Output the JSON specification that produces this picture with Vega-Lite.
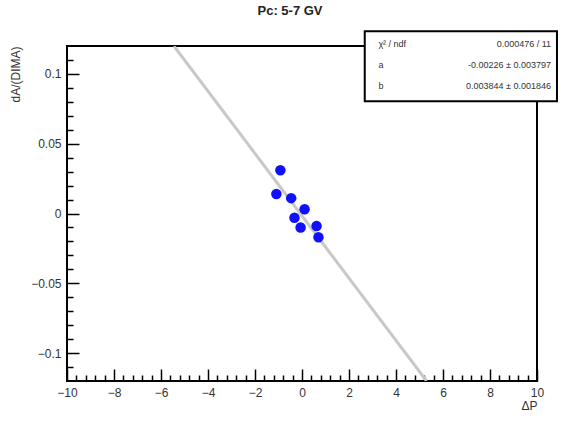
{
  "$schema": "https://vega.github.io/schema/vega-lite/v6.json",
  "autosize": "none",
  "width": 470,
  "height": 335,
  "padding": {"left": 67, "top": 46, "right": 34, "bottom": 41},
  "background": "white",
  "config": {
    "font": "Liberation Sans",
    "view": {"stroke": "black", "strokeWidth": 2}
  },
  "title": {
    "text": "Pc: 5-7 GV",
    "font": "Liberation Sans",
    "fontSize": 13,
    "fontWeight": "bold",
    "color": "#222",
    "anchor": "middle",
    "offset": 12,
    "dx": -12
  },
  "datasets": {
    "points": [
      {"dP": -0.92, "val": 0.031},
      {"dP": -1.09, "val": 0.014},
      {"dP": -0.46, "val": 0.011},
      {"dP": 0.11, "val": 0.003},
      {"dP": -0.32, "val": -0.003},
      {"dP": -0.06, "val": -0.010},
      {"dP": 0.62, "val": -0.009},
      {"dP": 0.70, "val": -0.017}
    ],
    "fit": [
      {"dP": -5.45, "val": 0.12},
      {"dP": 5.3, "val": -0.12}
    ],
    "box": [
      {"x1": 2.67, "x2": 10.85, "y1": 0.1305, "y2": 0.0805}
    ],
    "stats": [
      {"name": "χ² / ndf", "value": "0.000476 / 11", "row": 0.1215, "lx": 3.25, "rx": 10.6},
      {"name": "a", "value": "-0.00226 ± 0.003797", "row": 0.1065, "lx": 3.25, "rx": 10.6},
      {"name": "b", "value": "0.003844 ± 0.001846", "row": 0.0915, "lx": 3.25, "rx": 10.6}
    ]
  },
  "layer": [
    {
      "data": {"name": "points"},
      "mark": {"type": "point", "opacity": 0},
      "encoding": {
        "x": {
          "field": "dP", "type": "quantitative",
          "scale": {"domain": [-10, 10], "nice": false, "zero": false},
          "axis": {
            "orient": "bottom",
            "values": [-10, -8, -6, -4, -2, 0, 2, 4, 6, 8, 10],
            "tickSize": -12, "tickWidth": 1.5, "tickColor": "black",
            "domain": false, "grid": false,
            "labelFont": "Liberation Sans", "labelFontSize": 12, "labelColor": "#333",
            "labelPadding": 18, "labelFlush": false,
            "title": "ΔP", "titleFont": "Liberation Sans", "titleFontSize": 12,
            "titleFontWeight": "normal", "titleColor": "#333",
            "titleAnchor": "end", "titlePadding": 2
          }
        },
        "y": {
          "field": "val", "type": "quantitative",
          "scale": {"domain": [-0.12, 0.12], "nice": false, "zero": false},
          "axis": {
            "orient": "left",
            "values": [-0.1, -0.05, 0, 0.05, 0.1],
            "format": "~g",
            "tickSize": -12, "tickWidth": 1.5, "tickColor": "black",
            "domain": false, "grid": false,
            "labelFont": "Liberation Sans", "labelFontSize": 12, "labelColor": "#333",
            "labelPadding": 18,
            "title": "dA/(DIMA)", "titleFont": "Liberation Sans", "titleFontSize": 12,
            "titleFontWeight": "normal", "titleColor": "#333",
            "titleAnchor": "end", "titlePadding": 8
          }
        }
      }
    },
    {
      "data": {"name": "points"},
      "mark": {"type": "point", "opacity": 0},
      "encoding": {
        "x": {
          "field": "dP", "type": "quantitative",
          "axis": {
            "orient": "bottom",
            "values": [-9.6,-9.2,-8.8,-8.4,-7.6,-7.2,-6.8,-6.4,-5.6,-5.2,-4.8,-4.4,-3.6,-3.2,-2.8,-2.4,-1.6,-1.2,-0.8,-0.4,0.4,0.8,1.2,1.6,2.4,2.8,3.2,3.6,4.4,4.8,5.2,5.6,6.4,6.8,7.2,7.6,8.4,8.8,9.2,9.6],
            "tickSize": -6, "tickWidth": 1.5, "tickColor": "black",
            "domain": false, "grid": false, "labels": false, "title": null
          }
        },
        "y": {
          "field": "val", "type": "quantitative",
          "axis": {
            "orient": "left",
            "values": [-0.11,-0.09,-0.08,-0.07,-0.06,-0.04,-0.03,-0.02,-0.01,0.01,0.02,0.03,0.04,0.06,0.07,0.08,0.09,0.11],
            "tickSize": -6, "tickWidth": 1.5, "tickColor": "black",
            "domain": false, "grid": false, "labels": false, "title": null
          }
        }
      }
    },
    {
      "data": {"name": "fit"},
      "mark": {"type": "line", "color": "#c8c8c8", "strokeWidth": 3, "clip": true},
      "encoding": {
        "x": {"field": "dP", "type": "quantitative", "axis": null},
        "y": {"field": "val", "type": "quantitative", "axis": null}
      }
    },
    {
      "data": {"name": "points"},
      "mark": {"type": "circle", "color": "#1010ff", "opacity": 1, "size": 110},
      "encoding": {
        "x": {"field": "dP", "type": "quantitative", "axis": null},
        "y": {"field": "val", "type": "quantitative", "axis": null}
      }
    },
    {
      "data": {"name": "box"},
      "mark": {"type": "rect", "fill": "white", "stroke": "black", "strokeWidth": 2, "clip": false},
      "encoding": {
        "x": {"field": "x1", "type": "quantitative", "axis": null},
        "x2": {"field": "x2"},
        "y": {"field": "y1", "type": "quantitative", "axis": null},
        "y2": {"field": "y2"}
      }
    },
    {
      "data": {"name": "stats"},
      "mark": {"type": "text", "align": "left", "baseline": "middle", "fontSize": 9, "color": "#333", "clip": false},
      "encoding": {
        "x": {"field": "lx", "type": "quantitative", "axis": null},
        "y": {"field": "row", "type": "quantitative", "axis": null},
        "text": {"field": "name"}
      }
    },
    {
      "data": {"name": "stats"},
      "mark": {"type": "text", "align": "right", "baseline": "middle", "fontSize": 9, "color": "#333", "clip": false},
      "encoding": {
        "x": {"field": "rx", "type": "quantitative", "axis": null},
        "y": {"field": "row", "type": "quantitative", "axis": null},
        "text": {"field": "value"}
      }
    }
  ],
  "resolve": {"axis": {"x": "independent", "y": "independent"}}
}
